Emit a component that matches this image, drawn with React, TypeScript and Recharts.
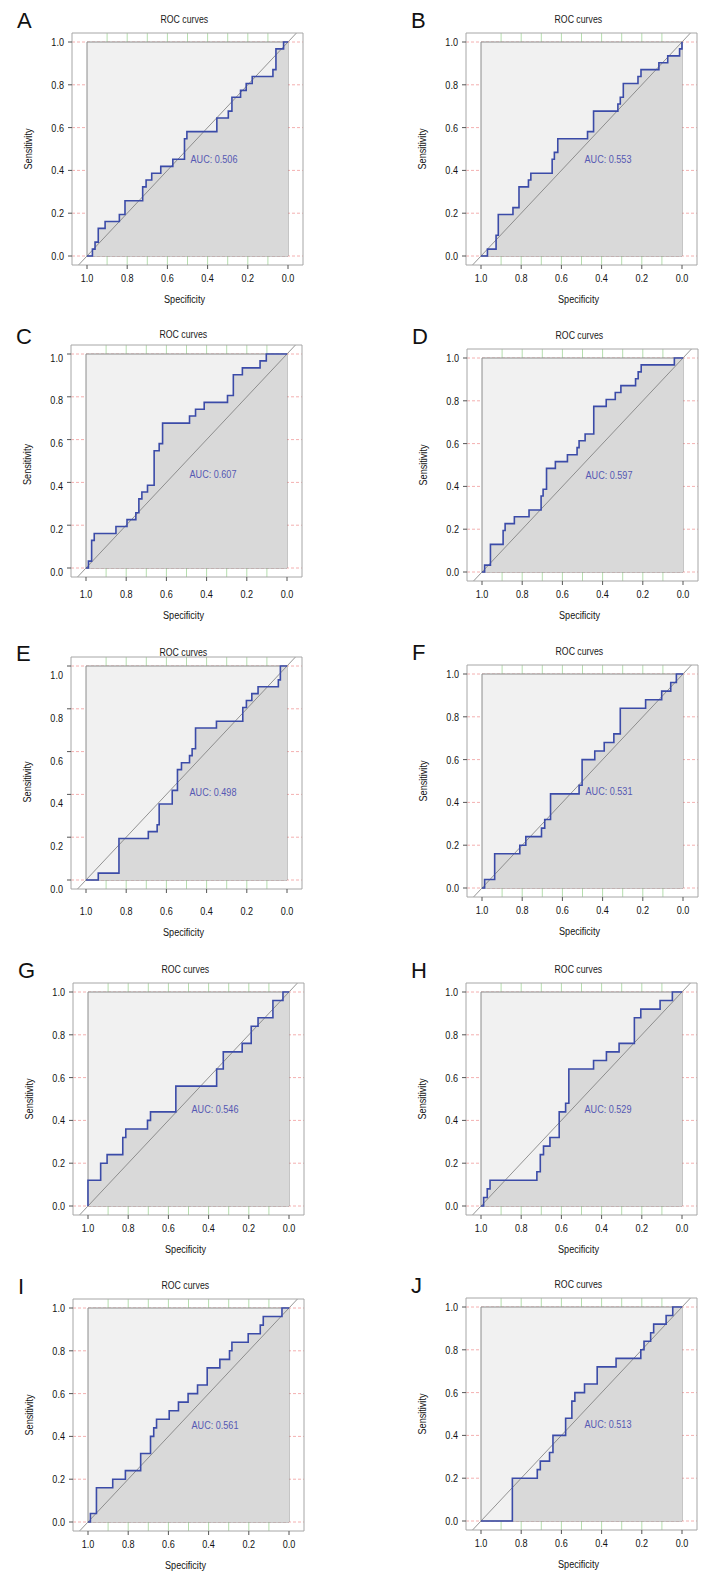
import React from 'react';
import {
  ComposedChart,
  XAxis,
  YAxis,
  Area,
  Line,
  ReferenceLine,
  ReferenceArea,
  ReferenceDot,
  Label,
} from 'recharts';

// ---------- data ----------
const PANEL_LETTERS = ['A', 'B', 'C', 'D', 'E', 'F', 'G', 'H', 'I', 'J'];
const AUC_VALUES = ['0.506', '0.553', '0.607', '0.597', '0.498', '0.531', '0.546', '0.529', '0.561', '0.513'];

const X_TICKS = [1, 0.8, 0.6, 0.4, 0.2, 0];
const Y_TICKS = [0, 0.2, 0.4, 0.6, 0.8, 1];
const X_GRID = [0.9, 0.8, 0.7, 0.6, 0.5, 0.4, 0.3, 0.2, 0.1];
const Y_GRID = [0, 0.2, 0.4, 0.6, 0.8, 1];

const A_SPEC = [1, 0.973, 0.96, 0.944, 0.91, 0.839, 0.811, 0.723, 0.706, 0.678, 0.633, 0.573, 0.515, 0.503, 0.354, 0.297, 0.279, 0.236, 0.208, 0.178, 0.075, 0.06, 0.022, 0];
const A_SENS = [0, 0.032, 0.065, 0.129, 0.161, 0.194, 0.258, 0.323, 0.355, 0.387, 0.419, 0.452, 0.548, 0.581, 0.645, 0.677, 0.742, 0.774, 0.806, 0.839, 0.871, 0.968, 1.0, 1.0];

const B_SPEC = [1, 0.968, 0.925, 0.914, 0.841, 0.811, 0.764, 0.752, 0.646, 0.635, 0.618, 0.47, 0.44, 0.319, 0.307, 0.292, 0.219, 0.204, 0.115, 0.071, 0.012, 0];
const B_SENS = [0, 0.032, 0.097, 0.194, 0.226, 0.323, 0.355, 0.387, 0.452, 0.484, 0.548, 0.581, 0.677, 0.71, 0.742, 0.806, 0.839, 0.871, 0.903, 0.935, 0.968, 1.0];

const C_SPEC = [1, 0.988, 0.972, 0.959, 0.851, 0.796, 0.752, 0.737, 0.722, 0.694, 0.661, 0.636, 0.619, 0.485, 0.455, 0.412, 0.296, 0.267, 0.222, 0.134, 0.103, 0];
const C_SENS = [0, 0.032, 0.129, 0.161, 0.194, 0.226, 0.258, 0.323, 0.355, 0.387, 0.548, 0.581, 0.677, 0.71, 0.742, 0.774, 0.806, 0.903, 0.935, 0.968, 1.0, 1.0];

const D_SPEC = [1, 0.987, 0.958, 0.895, 0.885, 0.839, 0.766, 0.706, 0.696, 0.679, 0.635, 0.575, 0.527, 0.517, 0.487, 0.444, 0.382, 0.337, 0.309, 0.236, 0.223, 0.208, 0.043, 0];
const D_SENS = [0, 0.032, 0.129, 0.194, 0.226, 0.258, 0.29, 0.355, 0.387, 0.484, 0.516, 0.548, 0.581, 0.613, 0.645, 0.774, 0.806, 0.839, 0.871, 0.903, 0.935, 0.968, 1.0, 1.0];

const E_SPEC = [1, 0.939, 0.836, 0.69, 0.646, 0.636, 0.571, 0.545, 0.525, 0.485, 0.472, 0.455, 0.351, 0.22, 0.202, 0.175, 0.144, 0.043, 0.033, 0];
const E_SENS = [0, 0.032, 0.194, 0.226, 0.258, 0.355, 0.419, 0.516, 0.548, 0.581, 0.613, 0.71, 0.742, 0.806, 0.839, 0.871, 0.903, 0.935, 1.0, 1.0];

const F_SPEC = [1, 0.987, 0.937, 0.812, 0.782, 0.704, 0.688, 0.659, 0.517, 0.502, 0.439, 0.392, 0.344, 0.312, 0.186, 0.106, 0.061, 0.033, 0];
const F_SENS = [0, 0.04, 0.16, 0.2, 0.24, 0.28, 0.32, 0.44, 0.48, 0.6, 0.64, 0.68, 0.72, 0.84, 0.88, 0.92, 0.96, 1.0, 1.0];

const G_SPEC = [1, 1, 0.937, 0.905, 0.827, 0.812, 0.704, 0.689, 0.563, 0.36, 0.327, 0.233, 0.188, 0.154, 0.08, 0.03, 0];
const G_SENS = [0, 0.12, 0.2, 0.24, 0.32, 0.36, 0.4, 0.44, 0.56, 0.64, 0.72, 0.76, 0.84, 0.88, 0.96, 1.0, 1.0];

const H_SPEC = [1, 0.987, 0.969, 0.955, 0.722, 0.705, 0.689, 0.657, 0.611, 0.579, 0.563, 0.44, 0.376, 0.313, 0.237, 0.205, 0.109, 0.048, 0];
const H_SENS = [0, 0.04, 0.08, 0.12, 0.16, 0.24, 0.28, 0.32, 0.44, 0.48, 0.64, 0.68, 0.72, 0.76, 0.88, 0.92, 0.96, 1.0, 1.0];

const I_SPEC = [1, 0.988, 0.958, 0.877, 0.814, 0.738, 0.689, 0.673, 0.659, 0.596, 0.55, 0.502, 0.455, 0.407, 0.344, 0.296, 0.284, 0.203, 0.143, 0.128, 0.035, 0];
const I_SENS = [0, 0.04, 0.16, 0.2, 0.24, 0.32, 0.4, 0.44, 0.48, 0.52, 0.56, 0.6, 0.64, 0.72, 0.76, 0.8, 0.84, 0.88, 0.92, 0.96, 1.0, 1.0];

const J_SPEC = [1, 0.844, 0.72, 0.705, 0.659, 0.642, 0.579, 0.548, 0.533, 0.485, 0.422, 0.328, 0.205, 0.189, 0.156, 0.141, 0.079, 0.046, 0];
const J_SENS = [0, 0.2, 0.24, 0.28, 0.32, 0.4, 0.48, 0.56, 0.6, 0.64, 0.72, 0.76, 0.8, 0.84, 0.88, 0.92, 0.96, 1.0, 1.0];

const SPECS = [A_SPEC, B_SPEC, C_SPEC, D_SPEC, E_SPEC, F_SPEC, G_SPEC, H_SPEC, I_SPEC, J_SPEC];
const SENSES = [A_SENS, B_SENS, C_SENS, D_SENS, E_SENS, F_SENS, G_SENS, H_SENS, I_SENS, J_SENS];

// ---------- layout ----------
const FONT = "'Liberation Sans', Arial, sans-serif";
const SX = 0.79; // horizontal condensing of the text glyphs
const FS = 11.5;
const TXT = '#121212';
const INNER_W = 201;
const INNER_H = 214;
const PAD_X = 15;
const PAD_Y = 9;
const FRAME_W = INNER_W + 2 * PAD_X;
const FRAME_H = INNER_H + 2 * PAD_Y;
const XMIN = -PAD_X / INNER_W;
const XMAX = 1 + PAD_X / INNER_W;
const YMIN = -PAD_Y / INNER_H;
const YMAX = 1 + PAD_Y / INNER_H;

const LAYOUT = [
  { left: 72, top: 33, textDy: 0 },
  { left: 466, top: 33, textDy: 0 },
  { left: 71, top: 345, textDy: 3.5 },
  { left: 467, top: 349, textDy: 0 },
  { left: 71, top: 657, textDy: 9 },
  { left: 467, top: 665, textDy: 0 },
  { left: 73, top: 983, textDy: 0 },
  { left: 466, top: 983, textDy: 0 },
  { left: 73, top: 1299, textDy: 0 },
  { left: 466, top: 1298, textDy: 0 },
];

const fmt = (v: number) => v.toFixed(1);

function NarrowText({
  x,
  y,
  anchor,
  dy,
  fill,
  rotate,
  children,
}: {
  x: number;
  y: number;
  anchor: 'start' | 'middle' | 'end';
  dy: string;
  fill?: string;
  rotate?: number;
  children: React.ReactNode;
}) {
  const t = `translate(${x},${y})` + (rotate ? ` rotate(${rotate})` : '');
  return (
    <g transform={t}>
      <text
        transform={`scale(${SX},1)`}
        x={0}
        y={0}
        dy={dy}
        textAnchor={anchor}
        fontFamily={FONT}
        fontSize={FS}
        fill={fill || TXT}
      >
        {children}
      </text>
    </g>
  );
}

function RocPanel({ idx }: { idx: number }) {
  const { left, top, textDy } = LAYOUT[idx];
  const spec = SPECS[idx];
  const sens = SENSES[idx];
  const rows = spec.map((s, i) => ({ spec: s, sens: sens[i] }));
  const YW = 62;
  const MT = 6;
  const MR = 6;
  const MB = 14;
  const XH = 44;
  const W = YW + FRAME_W + MR;
  const H = MT + FRAME_H + XH + MB;
  const titleCenter = top - 14.3 + textDy;

  const xTick = (p: any) => (
    <NarrowText x={p.x} y={p.y + textDy} anchor="middle" dy="0.71em">
      {fmt(p.payload.value)}
    </NarrowText>
  );
  const yTick = (p: any) => (
    <NarrowText x={p.x} y={p.y + textDy} anchor="end" dy="0.355em">
      {fmt(p.payload.value)}
    </NarrowText>
  );

  return (
    <>
      <div
        style={{
          position: 'absolute',
          left: left - 55,
          top: titleCenter - 8.5,
          fontFamily: "'Liberation Sans', Arial, sans-serif",
          fontSize: 22,
          lineHeight: '22px',
          color: '#111',
        }}
      >
        {PANEL_LETTERS[idx]}
      </div>
      <div
        style={{
          position: 'absolute',
          left: left + 112 - 60,
          width: 120,
          textAlign: 'center',
          top: titleCenter - 7,
          fontSize: 11.5,
          lineHeight: '14px',
          fontFamily: FONT,
          color: '#1a1a1a',
        }}
      >
        <span style={{ display: 'inline-block', transform: 'scaleX(0.76)', transformOrigin: 'center' }}>
          ROC curves
        </span>
      </div>
      <div style={{ position: 'absolute', left: left - YW, top: top - MT }}>
        <ComposedChart width={W} height={H} margin={{ top: MT, right: MR, bottom: MB, left: 0 }}>
          <XAxis
            type="number"
            dataKey="spec"
            domain={[XMIN, XMAX]}
            allowDataOverflow
            reversed
            ticks={X_TICKS}
            interval={0}
            tickFormatter={fmt}
            axisLine={false}
            tickLine={{ stroke: '#555' }}
            tickSize={4}
            tickMargin={5}
            height={XH}
            tick={xTick}
          >
            <Label
              position="insideBottom"
              content={(p: any) => {
                const vb = p.viewBox || { x: 0, y: 0, width: 0, height: 0 };
                return (
                  <NarrowText x={vb.x + vb.width / 2 - 3} y={vb.y + vb.height - 6 + textDy} anchor="middle" dy="0">
                    Specificity
                  </NarrowText>
                );
              }}
            />
          </XAxis>
          <YAxis
            type="number"
            domain={[YMIN, YMAX]}
            allowDataOverflow
            ticks={Y_TICKS}
            interval={0}
            tickFormatter={fmt}
            axisLine={false}
            tickLine={{ stroke: '#555' }}
            tickSize={4}
            tickMargin={4}
            width={YW}
            tick={yTick}
          >
            <Label
              position="insideLeft"
              content={(p: any) => {
                const vb = p.viewBox || { x: 0, y: 0, width: 0, height: 0 };
                return (
                  <NarrowText x={vb.x + 18} y={vb.y + vb.height / 2 + textDy} anchor="middle" dy="0.355em" rotate={-90}>
                    Sensitivity
                  </NarrowText>
                );
              }}
            />
          </YAxis>
          {Y_GRID.map((v) => (
            <ReferenceLine key={'gy' + v} y={v} stroke="#f4b0b0" strokeDasharray="3 2" strokeWidth={1} zIndex={1} />
          ))}
          {X_GRID.map((v) => (
            <ReferenceLine key={'gx' + v} x={v} stroke="#b6deae" strokeWidth={1} zIndex={1} />
          ))}
          <ReferenceArea
            x1={0}
            x2={1}
            y1={0}
            y2={1}
            fill="#f1f1f1"
            fillOpacity={1}
            stroke="#8c8c8c"
            strokeWidth={1}
            zIndex={2}
          />
          <Area
            data={rows}
            dataKey="sens"
            type="stepAfter"
            fill="#d9d9d9"
            fillOpacity={1}
            stroke="none"
            baseValue={0}
            isAnimationActive={false}
            zIndex={3}
          />
          <ReferenceLine
            segment={[
              { x: 1.3, y: -0.3 },
              { x: -0.3, y: 1.3 },
            ]}
            ifOverflow="hidden"
            stroke="#7a7a7a"
            strokeWidth={0.8}
            zIndex={4}
          />
          <Line
            data={rows}
            dataKey="sens"
            type="stepAfter"
            stroke="#3b4ba8"
            strokeWidth={1.6}
            dot={false}
            activeDot={false}
            isAnimationActive={false}
            zIndex={5}
          />
          <ReferenceArea
            x1={XMIN}
            x2={XMAX}
            y1={YMIN}
            y2={YMAX}
            fill="none"
            fillOpacity={0}
            stroke="#a6a6a6"
            strokeWidth={1}
            ifOverflow="visible"
            zIndex={6}
          />
          <ReferenceDot
            x={0.485}
            y={0.455 - textDy / INNER_H}
            r={0}
            fill="none"
            stroke="none"
            ifOverflow="visible"
            zIndex={7}
          >
            <Label
              position="right"
              content={(p: any) => {
                const vb = p.viewBox || { x: 0, y: 0, width: 0, height: 0 };
                return (
                  <NarrowText x={vb.x + (vb.width || 0)} y={vb.y + (vb.height || 0) / 2} anchor="start" dy="0.355em" fill="#5558b3">
                    {'AUC: ' + AUC_VALUES[idx]}
                  </NarrowText>
                );
              }}
            />
          </ReferenceDot>
        </ComposedChart>
      </div>
    </>
  );
}

export default function App() {
  return (
    <div
      style={{
        position: 'absolute',
        left: 0,
        top: 0,
        width: 720,
        height: 1584,
        background: '#ffffff',
        overflow: 'hidden',
      }}
    >
      {PANEL_LETTERS.map((_, i) => (
        <RocPanel key={i} idx={i} />
      ))}
    </div>
  );
}
